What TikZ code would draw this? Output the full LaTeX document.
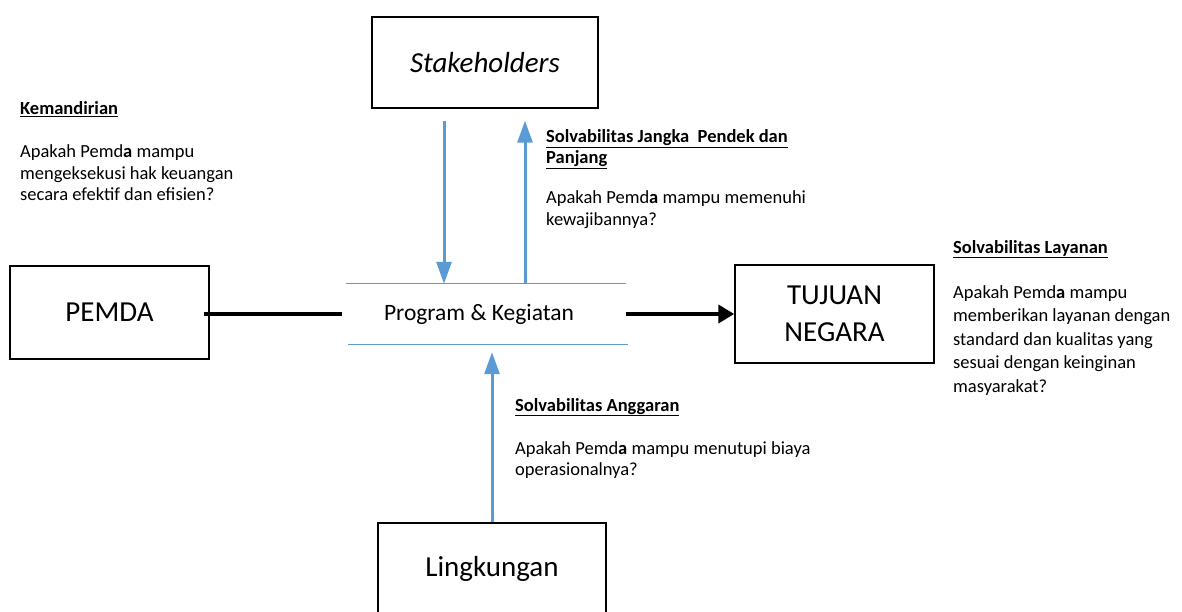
\documentclass[tikz,border=0pt]{standalone}
\usepackage{fontspec}
\setmainfont{Carlito}
\usetikzlibrary{arrows.meta}
\definecolor{lineblue}{RGB}{91,155,213}
\newcommand{\fsz}[2]{\fontsize{#1}{#2}\selectfont}

\begin{document}
\begin{tikzpicture}[x=1pt,y=-1pt]
	\tikzstyle{every node}=[inner sep=0pt]
	\tikzstyle{box}=[draw, line width=1.5pt, align=center, font=\fsz{29}{37}]
	\tikzstyle{note}=[anchor=base west, align=left, font=\fsz{18.5}{21.5}]
	\tikzstyle{flow}=[draw=lineblue, line width=3pt, -{Triangle[width=15pt,length=22pt]}]
	\tikzstyle{bar}=[draw=black, line width=4pt]
	
	\useasboundingbox (0,0) rectangle (1182,612);
	\clip (0,0) rectangle (1182,612);
	
	% boxes
	\node[box, minimum width=226pt, minimum height=91pt] (stake) at (485,62.5) {\textit{Stakeholders}};
	\node[box, minimum width=199pt, minimum height=93pt] (pemda) at (109.5,312.5) {PEMDA};
	\node[box, minimum width=199pt, minimum height=98pt] (tujuan) at (834.5,314) {TUJUAN\\NEGARA};
	\node[box, minimum width=228pt, minimum height=91pt] (ling) at (492,568.5) {Lingkungan};
	
	\node[minimum width=279pt, minimum height=60pt, font=\fsz{23.5}{28}] (prog) at (479,314) {Program \& Kegiatan};
	\draw[lineblue, line width=1.2pt] ([xshift=7pt]prog.north west) -- ([xshift=7pt]prog.north east);
	\draw[lineblue, line width=1.2pt] ([xshift=9pt]prog.south west) -- ([xshift=9pt]prog.south east);
	
	% connectors
	\draw[flow, shorten <=12pt] ([xshift=-41pt]stake.south) -- ([xshift=-35pt]prog.north);
	\draw[flow, shorten >=12pt] ([xshift=46pt]prog.north) -- ([xshift=40pt]stake.south);
	\draw[flow, shorten >=8pt] (ling.north) -- (ling.north |- prog.south);
	\draw[bar] ([xshift=-6pt]pemda.east |- prog.west) -- ([xshift=3pt]prog.west);
	\draw[bar, -{Triangle[width=18pt,length=16pt]}] ([xshift=7pt]prog.east) -- (tujuan.west |- prog.east);
	
	% notes (base = last line)
	\node[note] (kemandirian) at (20,115) {\underline{\textbf{Kemandirian}}};
	\node[note] (kemandirian-q) at (20,201) {Apakah Pemd\textbf{a} mampu\\mengeksekusi hak keuangan\\secara efektif dan efisien?};
	
	\node[note, font=\fsz{18.5}{20.5}] (jangka) at (546,163.5) {\underline{\textbf{Solvabilitas Jangka\ \ Pendek dan}}\\\underline{\textbf{Panjang}}};
	\node[note] (jangka-q) at (546,225.5) {Apakah Pemd\textbf{a} mampu memenuhi\\kewajibannya?};
	
	\node[note] (layanan) at (953,253) {\underline{\textbf{Solvabilitas Layanan}}};
	\node[note, font=\fsz{18.5}{23.5}] (layanan-q) at (953,392) {Apakah Pemd\textbf{a} mampu\\memberikan layanan dengan\\standard dan kualitas yang\\sesuai dengan keinginan\\masyarakat?};
	
	\node[note] (anggaran) at (515,411) {\underline{\textbf{Solvabilitas Anggaran}}};
	\node[note] (anggaran-q) at (515,475.5) {Apakah Pemd\textbf{a} mampu menutupi biaya\\operasionalnya?};
	
\end{tikzpicture}
\end{document}
